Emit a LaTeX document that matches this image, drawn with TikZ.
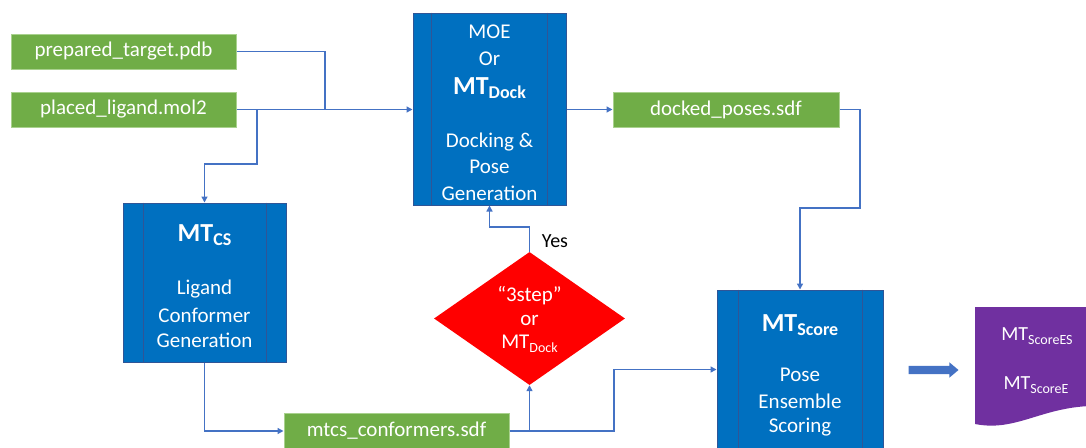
\documentclass[tikz,border=0pt]{standalone}
\usepackage{fontspec}
\setmainfont{Carlito}
\usetikzlibrary{shapes.geometric,shapes.arrows,arrows.meta}

\definecolor{filegreen}{HTML}{70AD47}
\definecolor{fileedge}{HTML}{A9D18E}
\definecolor{procblue}{HTML}{0070C0}
\definecolor{procedge}{HTML}{2F5597}
\definecolor{decred}{HTML}{FF0000}
\definecolor{docpurple}{HTML}{7030A0}
\definecolor{linkblue}{HTML}{4472C4}

\newcommand{\fsz}[1]{\fontsize{#1}{#1}\selectfont}
\newcommand{\mysub}[2]{\raisebox{-4pt}{\fsz{#1}#2}}

\tikzset{
  filebox/.style={draw=fileedge, line width=1pt, fill=filegreen, text=white,
    inner sep=0pt, minimum width=225pt, minimum height=35pt, font=\fsz{21}},
  procbox/.style={draw=procedge, line width=1pt, fill=procblue, inner sep=0pt},
  procline/.style={draw=procedge, line width=0.8pt},
  wtext/.style={text=white, inner sep=0pt, font=\fsz{21}},
  conn/.style={draw=linkblue, line width=1.4pt},
  arr/.style={conn, -{Triangle[length=6pt,width=6pt]}},
}

\begin{document}
\begin{tikzpicture}[x=1pt,y=-1pt]
\useasboundingbox (0,0) rectangle (1086,447);

% input and output files
\node[filebox] (pt) at (123.5,51.5) {prepared\_target.pdb};
\node[filebox] (pl) at (123.5,109.5) {placed\_ligand.mol2};
\node[filebox, minimum width=226pt] (dp) at (726,109.5) {docked\_poses.sdf};
\node[filebox] (mc) at (396.5,431) {mtcs\_conformers.sdf};

% docking process
\node[procbox, minimum width=153pt, minimum height=192pt] (moe) at (489.5,109) {};
\draw[procline] ([xshift=19pt]moe.north west) -- ([xshift=19pt]moe.south west);
\draw[procline] ([xshift=-19pt]moe.north east) -- ([xshift=-19pt]moe.south east);
\node[wtext] (moe1) at (489.5,32) {MOE};
\node[wtext] (moe2) at (489.5,59) {Or};
\node[wtext] (moe3) at (489.5,88) {\fsz{26}\bfseries MT\mysub{18}{Dock}};
\node[wtext] (moe4) at (489.5,142) {Docking \&};
\node[wtext] (moe5) at (489.5,167) {Pose};
\node[wtext] (moe6) at (489.5,193) {Generation};

% conformer search process
\node[procbox, minimum width=163pt, minimum height=159pt] (mtcs) at (204.5,282.5) {};
\draw[procline] ([xshift=21pt]mtcs.north west) -- ([xshift=21pt]mtcs.south west);
\draw[procline] ([xshift=-20pt]mtcs.north east) -- ([xshift=-20pt]mtcs.south east);
\node[wtext] (cs1) at (204.5,235) {\fsz{26}\bfseries MT\mysub{18}{CS}};
\node[wtext] (cs2) at (204.5,289) {Ligand};
\node[wtext] (cs3) at (204.5,315) {Conformer};
\node[wtext] (cs4) at (204.5,340) {Generation};

% scoring process
\node[procbox, minimum width=166pt, minimum height=172pt] (score) at (800,376) {};
\draw[procline] ([xshift=22pt]score.north west) -- ([xshift=22pt]score.south west);
\draw[procline] ([xshift=-21pt]score.north east) -- ([xshift=-21pt]score.south east);
\node[wtext] (sc1) at (800,325) {\fsz{26}\bfseries MT\mysub{18}{Score}};
\node[wtext] (sc2) at (800,375) {Pose};
\node[wtext] (sc3) at (800,401) {Ensemble};
\node[wtext] (sc4) at (800,427) {Scoring};

% decision
\node[diamond, fill=decred, inner sep=0pt, minimum width=191pt, minimum height=133pt] (dia) at (529.5,318.5) {};
\node[wtext] (d1) at (529.5,296) {“3step”};
\node[wtext] (d2) at (529.5,320) {or};
\node[wtext] (d3) at (529.5,344) {MT\mysub{14}{Dock}};
\node[inner sep=0pt, font=\fsz{20}] (yes) at (555,241) {Yes};

% result document
\fill[docpurple] (975,307) -- (1090,307) -- (1090,406)
  .. controls (1040,408) and (1015,432) .. (975,424) -- cycle;
\node[wtext, font=\fsz{20}] (r1) at (1037,336) {MT\mysub{14}{ScoreES}};
\node[wtext, font=\fsz{20}] (r2) at (1036,385) {MT\mysub{14}{ScoreE}};

% block arrow towards the result
\node[single arrow, fill=linkblue, inner sep=0pt, minimum width=15pt, minimum height=50pt,
  single arrow head extend=3.5pt, single arrow tip angle=80, text height=8pt,
  text depth=0pt, text width=0pt] (out) at (931,370) {};

% junctions
\coordinate (j1) at (325,109.5);
\coordinate (j2) at (257,109.5);
\coordinate (b1) at (257,164);
\coordinate (c1) at (860,208);
\coordinate (c2) at (614,369.5);
\coordinate (j3) at (529.5,431);
\coordinate (c3) at (489.5,227);

% connectors
\draw[conn] (pt.east) -| (j1);
\draw[arr] (pl.east) -- (pl.east -| moe.west);
\draw[arr] (j2) -- (b1) -| (mtcs.north);
\draw[arr] (moe.east |- dp.west) -- (dp.west);
\draw[arr] (dp.east) -| (c1) -| (score.north);
\draw[arr] (mtcs.south) |- (mc.west);
\draw[arr] (mc.east) -| (c2) -- (c2 -| score.west);
\draw[arr] (j3) -- (dia.south);
\draw[arr] (dia.north) |- (c3) -- (c3 |- moe.south);
\end{tikzpicture}
\end{document}
